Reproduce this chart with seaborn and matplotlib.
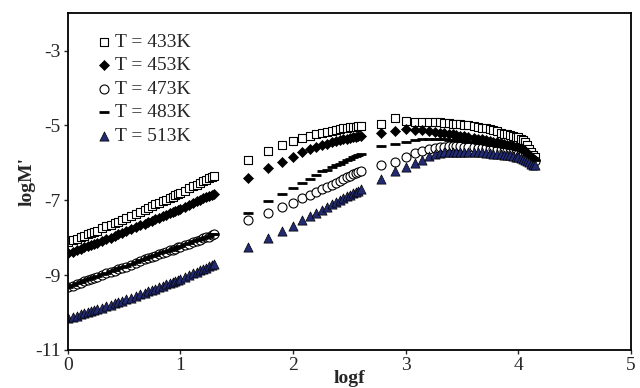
import numpy as np
import pandas as pd
import seaborn as sns
import matplotlib
matplotlib.use("Agg")
import matplotlib.pyplot as plt

# measurement frequencies (Hz): low band, then the two high bands
freq_low = [1, 1.1, 1.2, 1.3, 1.4, 1.5, 1.6, 1.7, 1.8, 2.0, 2.2, 2.4, 2.6, 2.8, 3.0,
            3.3, 3.6, 4.0, 4.4, 4.8, 5.2, 5.6, 6.0, 6.5, 7.0, 7.5, 8.0, 8.5, 9.0, 9.5,
            10, 11, 12, 13, 14, 15, 16, 17, 18, 19, 20]
freq_high = [40, 60, 80, 100, 120, 140, 160, 180, 200, 220, 240, 260, 280, 300, 320,
             340, 360, 380, 400,
             600, 800, 1000, 1200, 1400, 1600, 1800, 2000, 2200, 2400, 2600, 2800, 3000,
             3300, 3600, 4000, 4400, 4800, 5200, 5600, 6000, 6500, 7000, 7500, 8000,
             8500, 9000, 9500, 10000, 10500, 11000, 11500, 12000, 12500, 13000, 13500, 14000]

labels = ["T = 433K", "T = 453K", "T = 473K", "T = 483K", "T = 513K"]

# logM', one list per temperature
m433 = [-8.12, -8.07, -8.03, -7.99, -7.95, -7.90, -7.87, -7.84, -7.81, -7.75, -7.70,
        -7.65, -7.61, -7.57, -7.53, -7.47, -7.42, -7.36, -7.31, -7.26, -7.20, -7.16,
        -7.11, -7.07, -7.02, -6.98, -6.94, -6.90, -6.87, -6.83, -6.80, -6.74, -6.68,
        -6.63, -6.59, -6.53, -6.49, -6.45, -6.41, -6.37, -6.34,
        -5.91, -5.68, -5.51, -5.42, -5.33, -5.29, -5.24, -5.21, -5.17, -5.14, -5.12,
        -5.10, -5.08, -5.07, -5.05, -5.04, -5.03, -5.02, -5.01,
        -4.95, -4.81, -4.89, -4.90, -4.91, -4.91, -4.92, -4.92, -4.93, -4.94, -4.95,
        -4.96, -4.97, -4.98, -5.00, -5.02, -5.04, -5.06, -5.08, -5.10, -5.12, -5.15,
        -5.19, -5.22, -5.24, -5.26, -5.28, -5.30, -5.32, -5.35, -5.38, -5.43, -5.52,
        -5.63, -5.71, -5.78, -5.84]
m453 = [-8.42, -8.38, -8.33, -8.30, -8.26, -8.23, -8.20, -8.17, -8.14, -8.09, -8.04,
        -8.00, -7.95, -7.91, -7.87, -7.82, -7.78, -7.72, -7.67, -7.63, -7.59, -7.55,
        -7.51, -7.47, -7.43, -7.39, -7.35, -7.32, -7.29, -7.26, -7.22, -7.17, -7.12,
        -7.07, -7.03, -6.99, -6.95, -6.92, -6.89, -6.85, -6.83,
        -6.41, -6.14, -5.98, -5.83, -5.72, -5.64, -5.58, -5.53, -5.49, -5.45, -5.42,
        -5.39, -5.37, -5.35, -5.33, -5.31, -5.30, -5.29, -5.27,
        -5.19, -5.15, -5.09, -5.11, -5.13, -5.15, -5.17, -5.19, -5.21, -5.22, -5.24,
        -5.26, -5.27, -5.29, -5.31, -5.33, -5.35, -5.37, -5.39, -5.41, -5.43, -5.45,
        -5.47, -5.49, -5.51, -5.53, -5.55, -5.57, -5.59, -5.61, -5.64, -5.68, -5.74,
        -5.80, -5.85, -5.89, -5.91]
m473 = [-9.33, -9.28, -9.24, -9.20, -9.16, -9.13, -9.10, -9.07, -9.05, -9.00, -8.95,
        -8.91, -8.88, -8.84, -8.81, -8.77, -8.73, -8.68, -8.62, -8.58, -8.54, -8.51,
        -8.48, -8.44, -8.41, -8.37, -8.34, -8.32, -8.29, -8.26, -8.24, -8.20, -8.16,
        -8.12, -8.08, -8.05, -8.02, -7.99, -7.97, -7.93, -7.91,
        -7.52, -7.33, -7.18, -7.07, -6.95, -6.86, -6.78, -6.71, -6.65, -6.59, -6.53,
        -6.48, -6.43, -6.39, -6.35, -6.31, -6.28, -6.25, -6.22,
        -6.07, -5.97, -5.84, -5.74, -5.67, -5.63, -5.60, -5.58, -5.57, -5.56, -5.56,
        -5.56, -5.56, -5.57, -5.57, -5.58, -5.59, -5.60, -5.61, -5.62, -5.63, -5.65,
        -5.66, -5.68, -5.69, -5.71, -5.72, -5.74, -5.75, -5.77, -5.79, -5.81, -5.84,
        -5.88, -5.90, -5.92, -5.94]
m483 = [-9.31, -9.26, -9.22, -9.18, -9.14, -9.11, -9.08, -9.05, -9.03, -8.98, -8.93,
        -8.89, -8.86, -8.82, -8.79, -8.75, -8.71, -8.66, -8.60, -8.56, -8.52, -8.49,
        -8.46, -8.42, -8.39, -8.35, -8.32, -8.30, -8.27, -8.24, -8.22, -8.18, -8.14,
        -8.10, -8.06, -8.03, -8.00, -7.97, -7.95, -7.91, -7.89,
        -7.33, -7.02, -6.83, -6.68, -6.54, -6.42, -6.32, -6.23, -6.18, -6.12, -6.07,
        -6.02, -5.97, -5.93, -5.89, -5.85, -5.82, -5.79, -5.76,
        -5.56, -5.50, -5.44, -5.39, -5.36, -5.35, -5.35, -5.36, -5.37, -5.38, -5.39,
        -5.40, -5.41, -5.42, -5.43, -5.45, -5.46, -5.48, -5.49, -5.51, -5.52, -5.54,
        -5.55, -5.57, -5.58, -5.60, -5.61, -5.63, -5.64, -5.66, -5.68, -5.71, -5.75,
        -5.79, -5.83, -5.88, -5.91]
m513 = [-10.15, -10.12, -10.08, -10.05, -10.02, -9.98, -9.96, -9.93, -9.91, -9.87, -9.83,
        -9.79, -9.75, -9.72, -9.69, -9.65, -9.61, -9.56, -9.51, -9.47, -9.43, -9.40,
        -9.36, -9.31, -9.28, -9.24, -9.21, -9.18, -9.15, -9.12, -9.09, -9.04, -8.99,
        -8.95, -8.91, -8.87, -8.83, -8.80, -8.76, -8.73, -8.70,
        -8.26, -8.01, -7.82, -7.68, -7.53, -7.43, -7.34, -7.26, -7.18, -7.11, -7.05,
        -6.99, -6.94, -6.89, -6.85, -6.81, -6.77, -6.74, -6.70,
        -6.43, -6.22, -6.12, -6.01, -5.91, -5.82, -5.77, -5.74, -5.72, -5.71, -5.70,
        -5.70, -5.70, -5.70, -5.70, -5.71, -5.71, -5.72, -5.73, -5.74, -5.75, -5.76,
        -5.77, -5.78, -5.79, -5.80, -5.82, -5.83, -5.85, -5.87, -5.90, -5.93, -5.96,
        -5.99, -6.02, -6.05, -6.07]

logf = np.log10(np.array(freq_low + freq_high, dtype=float))
series = [m433, m453, m473, m483, m513]

sns.set_style("ticks")
plt.rcParams['font.family'] = ['Liberation Serif', 'DejaVu Serif']
plt.rcParams['axes.unicode_minus'] = False

navy = "#222a72"
styles = [
    dict(marker="s", color="white", edgecolor="black", s=38, linewidth=0.8),
    dict(marker="D", color="black", edgecolor="black", s=26, linewidth=0.5),
    dict(marker="o", color="white", edgecolor="black", s=42, linewidth=0.8),
    dict(marker="_", color="black", s=50, linewidth=2.0),
    dict(marker="^", color=navy, edgecolor="black", s=44, linewidth=0.5),
]

fig, ax = plt.subplots(figsize=(6.4, 3.88), dpi=100)
fig.subplots_adjust(left=0.106, right=0.986, bottom=0.098, top=0.966)

for lab, vals, st in zip(labels, series, styles):
    df = pd.DataFrame({"logf": logf, "logM": vals})
    sns.scatterplot(data=df, x="logf", y="logM", label=lab, ax=ax, **st)

ax.set_xlim(0, 5)
ax.set_ylim(-11, -2)
ax.set_xticks([0, 1, 2, 3, 4, 5])
ax.set_yticks([-11, -9, -7, -5, -3])
ax.tick_params(axis="both", labelsize=14, length=3, width=1, direction="out", pad=2)
for sp in ax.spines.values():
    sp.set_linewidth(1.3)
    sp.set_color("black")

ax.set_xlabel("logf", fontsize=14, fontweight="bold", labelpad=-3)
ax.set_ylabel("logM'", fontsize=14, fontweight="bold", labelpad=0)

ax.legend(loc="upper left", bbox_to_anchor=(0.03, 0.975), frameon=False, fontsize=14,
          handlelength=0.8, handletextpad=0.15, labelspacing=0.3, borderaxespad=0.2)

plt.savefig("out.png", dpi=100)
